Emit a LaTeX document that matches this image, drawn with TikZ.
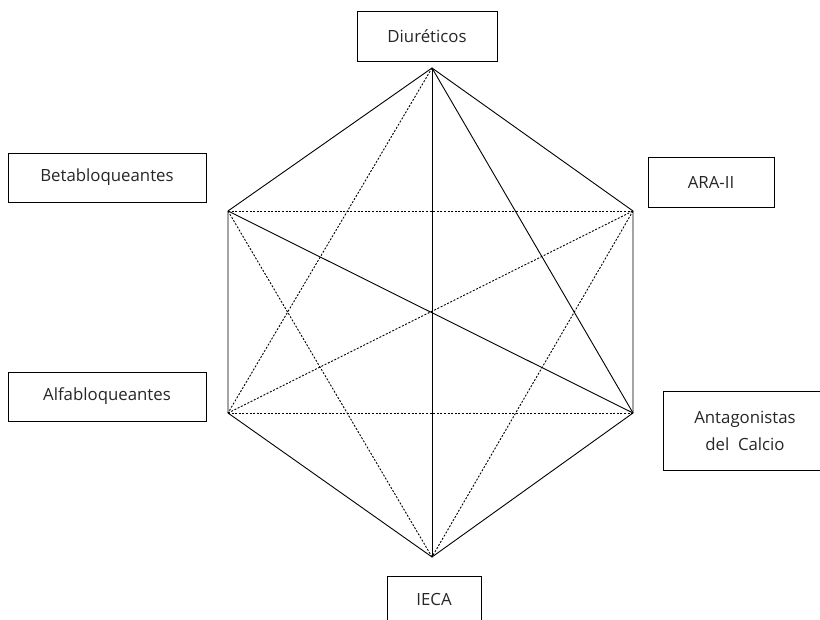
\documentclass[tikz,border=0pt]{standalone}
\usepackage{fontspec}
\setmainfont{Open Sans}
\usetikzlibrary{positioning}
\begin{document}
\begin{tikzpicture}[x=1pt, y=-1pt,
  drug/.style={draw,line width=0.9pt,inner sep=2pt,align=center,
    text=black!85,font=\fontsize{16.8}{27}\selectfont},
  side/.style={line width=0.9pt},
  cross/.style={line width=0.9pt,dash pattern=on 2pt off 1.6pt}]
  \useasboundingbox (0,0) rectangle (820,620);
  % Drug classes
  \node[drug,minimum width=140pt,minimum height=50pt] (diu) at (427,36) {Diuréticos};
  \node[drug,minimum width=198pt,minimum height=49pt] (beta) at (107,177.5) {Betabloqueantes};
  \node[drug,minimum width=126pt,minimum height=50pt] (ara) at (711,182) {ARA-II};
  \node[drug,minimum width=198pt,minimum height=49pt] (alfa) at (107,396.5) {Alfabloqueantes};
  \node[drug,minimum width=164pt,minimum height=79pt] (calc) at (745,430.5) {Antagonistas\\del\ \ Calcio};
  \node[drug,minimum width=94pt,minimum height=46pt] (ieca) at (434,599) {IECA};
  % Hexagon corners
  \coordinate (hDiu) at (432,68);
  \coordinate (hAra) at (633,211);
  \coordinate (hCalc) at (633,413);
  \coordinate (hIeca) at (432,557);
  \coordinate (hAlfa) at (228,413);
  \coordinate (hBeta) at (228,211);
  % Outline
  \draw[side] (hDiu) -- (hAra) -- (hCalc) -- (hIeca) -- (hAlfa) -- (hBeta) -- cycle;
  % Solid diagonals
  \draw[side] (hDiu) -- (hIeca);
  \draw[side] (hDiu) -- (hCalc);
  \draw[side] (hBeta) -- (hCalc);
  % Dashed diagonals
  \draw[cross] (hBeta) -- (hAra);
  \draw[cross] (hAlfa) -- (hCalc);
  \draw[cross] (hDiu) -- (hAlfa);
  \draw[cross] (hBeta) -- (hIeca);
  \draw[cross] (hAra) -- (hIeca);
  \draw[cross] (hAlfa) -- (hAra);
\end{tikzpicture}
\end{document}
